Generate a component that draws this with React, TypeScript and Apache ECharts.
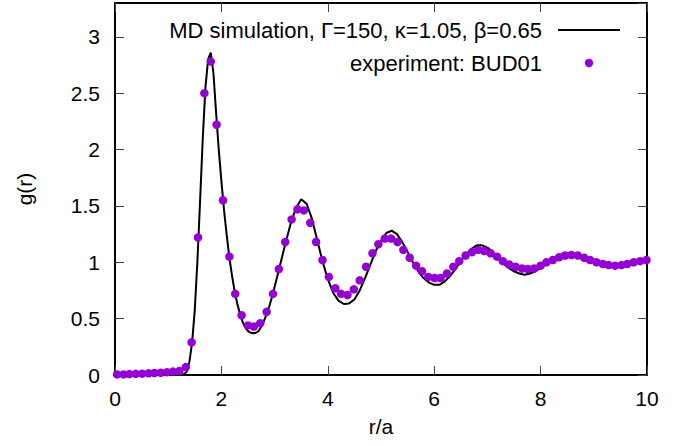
import React, { useEffect, useRef } from "react";
import * as echarts from "echarts";

// MD simulation curve g(r)
const mdR = [
  0, 0.5, 1.0, 1.2, 1.25, 1.3, 1.35, 1.4, 1.45, 1.5, 1.55, 1.6, 1.65, 1.7, 1.75, 1.8,
  1.85, 1.9, 1.95, 2.0, 2.05, 2.1, 2.15, 2.2, 2.25, 2.3, 2.35, 2.4, 2.45, 2.5, 2.55,
  2.6, 2.65, 2.7, 2.75, 2.8, 2.85, 2.9, 2.95, 3.0, 3.1, 3.2, 3.3, 3.4, 3.5, 3.6, 3.7,
  3.8, 3.9, 4.0, 4.1, 4.2, 4.3, 4.4, 4.5, 4.6, 4.7, 4.8, 4.9, 5.0, 5.1, 5.2, 5.3, 5.4,
  5.5, 5.6, 5.7, 5.8, 5.9, 6.0, 6.1, 6.2, 6.3, 6.4, 6.5, 6.6, 6.7, 6.8, 6.9, 7.0, 7.1,
  7.2, 7.3, 7.4, 7.5, 7.6, 7.7, 7.8, 7.9, 8.0, 8.1, 8.2, 8.3, 8.4, 8.5, 8.6, 8.7, 8.8,
  8.9, 9.0, 9.1, 9.2, 9.3, 9.4, 9.5, 9.6, 9.7, 9.8, 9.9, 10.0,
];
const mdG = [
  0, 0, 0, 0.001, 0.003, 0.008, 0.03, 0.12, 0.29, 0.58, 1.02, 1.55, 2.1, 2.55, 2.8, 2.86,
  2.68, 2.33, 2.0, 1.72, 1.46, 1.24, 1.04, 0.88, 0.74, 0.63, 0.54, 0.47, 0.42, 0.39, 0.375,
  0.37, 0.375, 0.39, 0.43, 0.48, 0.54, 0.61, 0.69, 0.78, 0.97, 1.16, 1.34, 1.48, 1.56, 1.52, 1.39,
  1.2, 1.01, 0.85, 0.73, 0.66, 0.63, 0.635, 0.67, 0.75, 0.86, 0.98, 1.1, 1.19, 1.26, 1.28, 1.25, 1.18,
  1.09, 1.0, 0.92, 0.86, 0.82, 0.8, 0.8, 0.83, 0.88, 0.94, 1.01, 1.07, 1.12, 1.15, 1.15, 1.13, 1.09,
  1.04, 0.99, 0.95, 0.92, 0.9, 0.89, 0.9, 0.92, 0.95, 0.98, 1.02, 1.05, 1.07, 1.075, 1.075, 1.06, 1.04,
  1.02, 1.0, 0.98, 0.97, 0.96, 0.96, 0.965, 0.975, 0.985, 1.0, 1.01, 1.02,
];

// Experiment BUD01
const expR = [
  0.04, 0.16, 0.27, 0.39, 0.51, 0.63, 0.74, 0.86, 0.98, 1.09, 1.21, 1.33, 1.44, 1.56, 1.68,
  1.8, 1.91, 2.03, 2.15, 2.26, 2.38, 2.5, 2.61, 2.73, 2.85, 2.97, 3.08, 3.2, 3.32, 3.43, 3.55,
  3.67, 3.78, 3.9, 4.02, 4.14, 4.25, 4.37, 4.49, 4.6, 4.72, 4.84, 4.95, 5.07, 5.19, 5.31, 5.42,
  5.54, 5.66, 5.77, 5.89, 6.01, 6.12, 6.24, 6.36, 6.47, 6.59, 6.71, 6.83, 6.94, 7.06, 7.18, 7.29,
  7.41, 7.53, 7.65, 7.76, 7.88, 8.0, 8.11, 8.23, 8.35, 8.46, 8.58, 8.7, 8.82, 8.93, 9.05, 9.17,
  9.28, 9.4, 9.52, 9.63, 9.75, 9.87, 9.99,
];
const expG = [
  0.005, 0.005, 0.008, 0.01, 0.012, 0.015, 0.018, 0.02, 0.025, 0.03, 0.035, 0.07, 0.29, 1.22, 2.5,
  2.78, 2.22, 1.55, 1.05, 0.72, 0.53, 0.44, 0.43, 0.46, 0.56, 0.72, 0.94, 1.18, 1.38, 1.47, 1.46,
  1.35, 1.18, 1.02, 0.87, 0.77, 0.72, 0.71, 0.76, 0.84, 0.96, 1.08, 1.16, 1.21, 1.21, 1.18, 1.11,
  1.04, 0.97, 0.92, 0.87, 0.86, 0.86, 0.9, 0.96, 1.01, 1.06, 1.09, 1.11, 1.1, 1.08, 1.05, 1.01,
  0.98, 0.96, 0.945, 0.94, 0.945, 0.97, 1.0, 1.02, 1.045, 1.06, 1.065, 1.06, 1.04, 1.02, 1.0, 0.985,
  0.975, 0.97, 0.975, 0.985, 1.0, 1.01, 1.02,
];

const mdLabel = "MD simulation, Γ=150, κ=1.05, β=0.65";
const expLabel = "experiment: BUD01";
const xLabel = "r/a";
const yLabel = "g(r)";

const FONT = "'Liberation Sans', Arial, Helvetica, sans-serif";
const VIOLET = "#9400d3";

export default function App() {
  const ref = useRef<HTMLDivElement>(null);
  useEffect(() => {
    if (!ref.current) return;
    const chart = echarts.init(ref.current, undefined, { renderer: "svg" });
    const axisLine = { show: true, onZero: false, lineStyle: { color: "#000", width: 2 } };
    const tick = { show: true, inside: true, length: 9, lineStyle: { color: "#444", width: 1 } };
    const label = { fontFamily: FONT, fontSize: 21, color: "#000" };
    chart.setOption({
      animation: false,
      backgroundColor: "#fff",
      grid: { left: 115, right: 38, top: 3, bottom: 71 },
      xAxis: [
        {
          type: "value", min: 0, max: 10, interval: 2, position: "bottom",
          axisLine, axisTick: tick, splitLine: { show: false },
          axisLabel: { ...label, margin: 13 },
          name: xLabel, nameLocation: "middle", nameGap: 41,
          nameTextStyle: { ...label },
        },
        {
          type: "value", min: 0, max: 10, interval: 2, position: "top",
          axisLine, axisTick: tick, splitLine: { show: false }, axisLabel: { show: false },
        },
      ],
      yAxis: [
        {
          type: "value", min: 0, max: 3.3, interval: 0.5, position: "left",
          axisLine, axisTick: tick, splitLine: { show: false },
          axisLabel: { ...label, margin: 15, showMaxLabel: false },
          name: yLabel, nameLocation: "middle", nameGap: 80, nameRotate: 90,
          nameTextStyle: { ...label },
        },
        {
          type: "value", min: 0, max: 3.3, interval: 0.5, position: "right",
          axisLine, axisTick: tick, splitLine: { show: false }, axisLabel: { show: false },
        },
      ],
      series: [
        {
          name: mdLabel, type: "line", xAxisIndex: 0, yAxisIndex: 0,
          data: mdR.map((r, i) => [r, mdG[i]]),
          showSymbol: false, symbol: "none",
          lineStyle: { color: "#000", width: 2 }, z: 2,
        },
        {
          name: expLabel, type: "scatter", xAxisIndex: 0, yAxisIndex: 0,
          data: expR.map((r, i) => [r, expG[i]]),
          symbol: "circle", symbolSize: 8.5,
          itemStyle: { color: VIOLET, opacity: 1 }, z: 3,
        },
      ],
      graphic: [
        {
          type: "text", x: 542, y: 30,
          style: { text: mdLabel, font: `22px ${FONT}`, fill: "#000", align: "right", verticalAlign: "middle" },
        },
        {
          type: "line", shape: { x1: 558, y1: 30, x2: 620, y2: 30 },
          style: { stroke: "#000", lineWidth: 2 },
        },
        {
          type: "text", x: 542, y: 63,
          style: { text: expLabel, font: `22px ${FONT}`, fill: "#000", align: "right", verticalAlign: "middle" },
        },
        {
          type: "circle", shape: { cx: 589, cy: 63, r: 4.2 },
          style: { fill: VIOLET },
        },
      ],
    });
    return () => chart.dispose();
  }, []);
  return (
    <div
      ref={ref}
      style={{ position: "fixed", left: 0, top: 0, width: 685, height: 446, background: "#fff" }}
    />
  );
}
